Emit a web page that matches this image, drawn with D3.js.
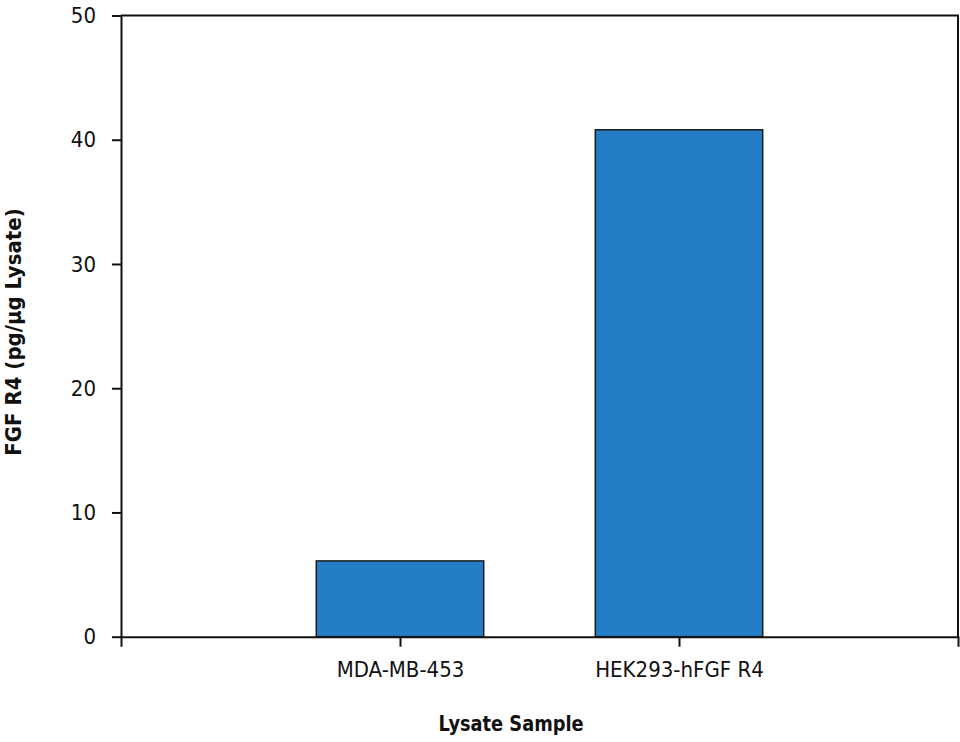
<!DOCTYPE html>
<html lang="en">
<head>
    <meta charset="UTF-8">
    <title>FGF R4 Lysate Chart</title>
    <script src="https://d3js.org/d3.v7.min.js"></script>
    <style>
        body {
            margin: 0;
            background: #fff;
        }

        svg text {
            font-family: "DejaVu Sans Condensed", "Liberation Sans Narrow", sans-serif;
            fill: #111;
        }

        .axis path,
        .axis line {
            stroke: #111;
            stroke-width: 2px;
        }

        .axis text {
            font-size: 22px;
        }

        .title {
            font-size: 22px;
            font-weight: bold;
        }

        .bar {
            fill: #247dc6;
            stroke: #1a1a1a;
            stroke-width: 1.5px;
        }
    </style>
</head>
<body>

<svg id="chart" width="960" height="742"></svg>

<script>
    // Data
    const categories = ["MDA-MB-453", "HEK293-hFGF R4"];
    const values = [6.1, 40.8];
    const yTicks = [0, 10, 20, 30, 40, 50];

    const svg = d3.select("#chart");

    // plot area
    const plotLeft = 121, plotRight = 958, plotTop = 15.5, plotBottom = 636.7;

    const x = d3.scalePoint()
        .domain(categories)
        .range([plotLeft, plotRight])
        .padding(1);

    const y = d3.scaleLinear()
        .domain([0, 50])
        .range([plotBottom, plotTop]);

    const barWidth = x.step() * 0.6;

    // bars
    svg.selectAll(".bar")
        .data(categories)
        .enter()
        .append("rect")
        .attr("class", "bar")
        .attr("x", d => x(d) - barWidth / 2)
        .attr("y", (d, i) => y(values[i]))
        .attr("width", barWidth)
        .attr("height", (d, i) => y(0) - y(values[i]));

    // frame on top and right
    svg.append("path")
        .attr("d", `M${plotLeft},${plotTop}H${plotRight}V${plotBottom}`)
        .attr("fill", "none")
        .attr("stroke", "#111")
        .attr("stroke-width", 2);

    // y axis
    svg.append("g")
        .attr("class", "axis")
        .attr("transform", `translate(${plotLeft},0)`)
        .call(d3.axisLeft(y).tickValues(yTicks).tickSize(9).tickSizeOuter(0).tickPadding(16));

    // x axis
    const xAxis = svg.append("g")
        .attr("class", "axis")
        .attr("transform", `translate(0,${plotBottom})`)
        .call(d3.axisBottom(x).tickSize(10).tickSizeOuter(10).tickPadding(11));

    xAxis.selectAll("text").attr("dy", "0.9em");

    // axis titles
    svg.append("text")
        .attr("class", "title")
        .attr("transform", "translate(511,731) scale(0.9,1)")
        .attr("text-anchor", "middle")
        .text("Lysate Sample");

    svg.append("text")
        .attr("class", "title")
        .attr("transform", "translate(21,332) rotate(-90)")
        .attr("text-anchor", "middle")
        .text("FGF R4 (pg/µg Lysate)");
</script>

</body>
</html>
